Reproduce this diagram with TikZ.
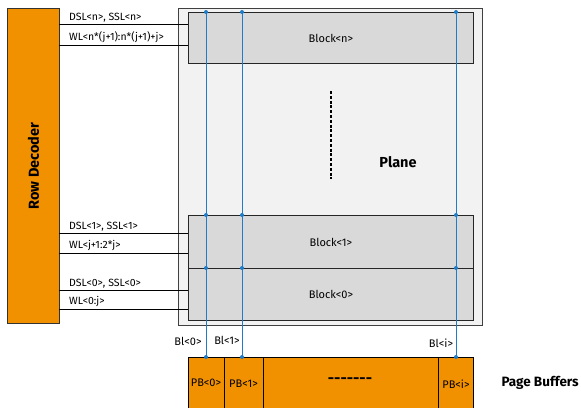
\documentclass[tikz,border=0pt]{standalone}
\usepackage{fontspec}
\setmainfont{Fira Sans}
\definecolor{orng}{HTML}{F29100}
\definecolor{planebg}{HTML}{F2F2F2}
\definecolor{blockbg}{HTML}{D9D9D9}
\definecolor{bl}{HTML}{1F7CC8}
\tikzset{
  blk/.style={draw=black!85, line width=0.9pt, fill=blockbg},
  sig/.style={draw=black, line width=1pt},
  sigtxt/.style={font=\fontsize{10.5}{11}\selectfont, anchor=south west, inner sep=1pt},
  bline/.style={draw=bl, line width=0.8pt},
  bdot/.style={circle, fill=bl, inner sep=0pt, minimum size=4pt},
  pbbox/.style={draw=black, line width=0.9pt, fill=orng},
  small/.style={font=\fontsize{11}{12}\selectfont},
  big/.style={font=\fontsize{14.5}{16}\selectfont\bfseries}
}
\begin{document}
\begin{tikzpicture}[x=1pt,y=-1pt]
\clip (0,0) rectangle (581,407);
\fill[white] (0,0) rectangle (581,407);
% Row decoder
\node[draw=black!80, line width=0.9pt, fill=orng, minimum width=52pt, minimum height=315pt, anchor=north west, inner sep=0pt] (rd) at (7,8) {};
\node[rotate=90, big] (rdl) at (rd.center) {Row Decoder};
% Plane
\node[draw=black!75, line width=0.8pt, fill=planebg, minimum width=304pt, minimum height=317pt, anchor=north west, inner sep=0pt] (plane) at (178,8) {};
\node[big] (planel) at (398,162) {Plane};
\draw[dash pattern=on 3pt off 1.8pt, line width=1.1pt] (331,91) coordinate (da) -- (331,179) coordinate (db);
% Blocks
\node[blk, minimum width=285pt, minimum height=51pt, anchor=north west, inner sep=0pt] (bn) at (188,12) {};
\node[small] at (bn.center) {Block<n>};
\node[blk, minimum width=285pt, minimum height=53pt, anchor=north west, inner sep=0pt] (b1) at (188,215) {};
\node[small] at (b1.center) {Block<1>};
\node[blk, minimum width=285pt, minimum height=52pt, anchor=north west, inner sep=0pt] (b0) at (188,268) {};
\node[small] at (b0.center) {Block<0>};
% Signals
\foreach \y/\t in {24/{DSL<n>, SSL<n>}, 45/{WL<n*(j+1):n*(j+1)+j>}, 233/{DSL<1>, SSL<1>}, 253/{WL<j+1:2*j>}, 290/{DSL<0>, SSL<0>}, 309/{WL<0:j>}}{
  \draw[sig] (59,\y) coordinate (s) -- (188,\y);
  \node[sigtxt] at (68,\y-1) {\t};
}
% Page buffers
\node[pbbox, minimum width=285pt, minimum height=54pt, anchor=north west, inner sep=0pt] (pb) at (188,357) {};
\draw[line width=0.9pt] (224,357) -- (224,410) (263,357) -- (263,410) (438,357) -- (438,410);
\node[small] (pb0) at (206,383) {PB<0>};
\node[small] (pb1) at (243.5,384) {PB<1>};
\node[font=\fontsize{15.5}{16}\selectfont\bfseries] (pbd) at (350,380.5) {-{}-{}-{}-{}-{}-{}-};
\node[small] (pbi) at (456,384) {PB<i>};
\node[font=\fontsize{13.5}{15}\selectfont\bfseries, anchor=west] (pbl) at (498,383) {Page Buffers};
% Bitlines
\foreach \x/\n in {206/0, 242/1, 456/i}{
  \draw[bline] (\x,12) -- (\x,357);
  \foreach \yy in {12,215,268,357}{
    \node[bdot] at (\x,\yy) {};
  }
}
\node[small] (bl0) at (188,341) {Bl<0>};
\node[small] (bl1) at (227,340) {Bl<1>};
\node[small] (bli) at (441,343) {Bl<i>};
\end{tikzpicture}
\end{document}
